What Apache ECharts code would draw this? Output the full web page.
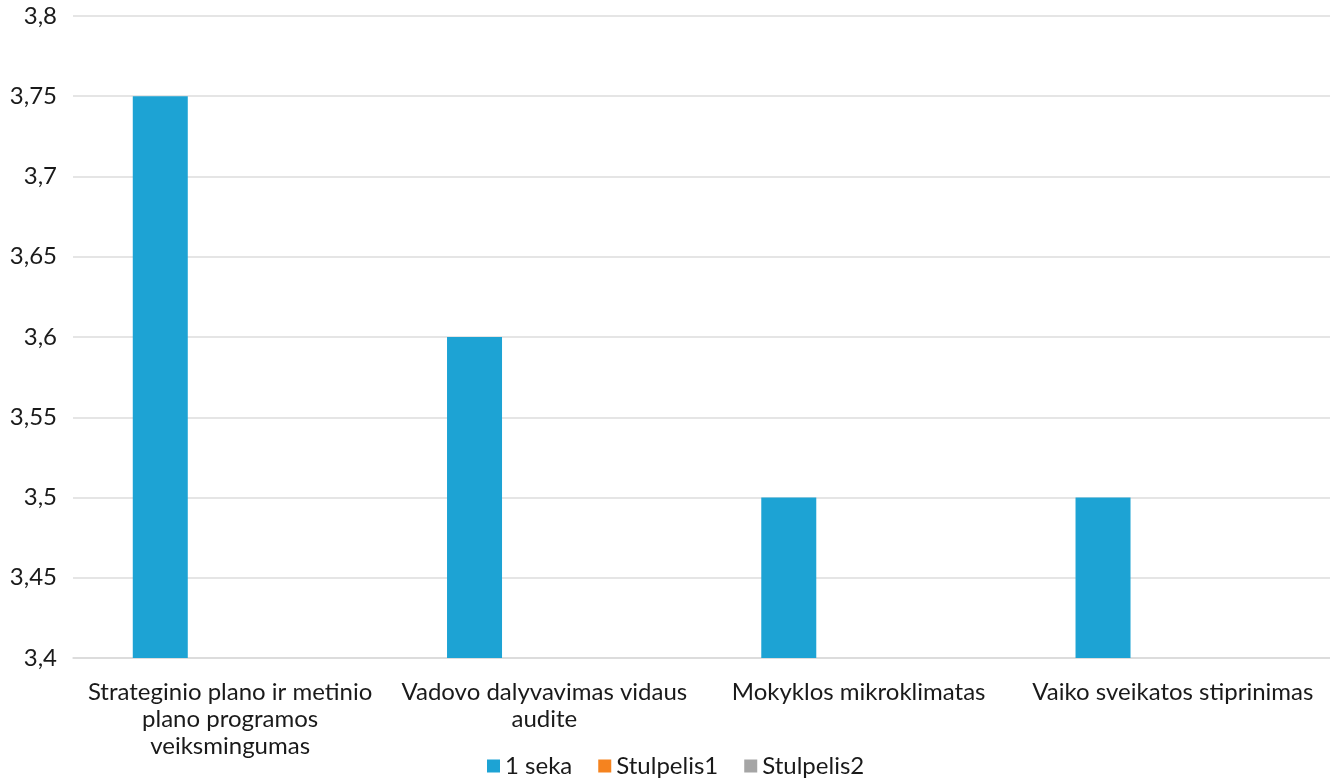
<!DOCTYPE html>
<html>
<head>
<meta charset="utf-8">
<script src="https://cdn.jsdelivr.net/npm/echarts@6/dist/echarts.min.js"></script>
<style>html,body{margin:0;padding:0;background:#fff;}#c{width:1330px;height:783px;}</style>
</head>
<body>
<div id="c"></div>
<script>
var categories = [
  "Strateginio plano ir metinio\nplano programos\nveiksmingumas",
  "Vadovo dalyvavimas vidaus\naudite",
  "Mokyklos mikroklimatas",
  "Vaiko sveikatos stiprinimas"
];
var seriesNames = ["1 seka", "Stulpelis1", "Stulpelis2"];
var seka1 = [3.75, 3.6, 3.5, 3.5];
var stulpelis1 = [null, null, null, null];
var stulpelis2 = [null, null, null, null];
var yMin = 3.4, yMax = 3.8, yStep = 0.05;

var font = "Lato, 'Noto Sans', sans-serif";
var chart = echarts.init(document.getElementById('c'));
chart.setOption({
  animation: false,
  color: ['#1DA3D4', '#F5831F', '#A5A5A5'],
  textStyle: { fontFamily: font },
  grid: { left: 73, right: 0, top: 16, bottom: 125, containLabel: false },
  legend: {
    data: seriesNames,
    left: 482, top: 752, padding: [2, 5, 2, 5],
    itemWidth: 13, itemHeight: 13, itemGap: 26,
    icon: 'rect',
    textStyle: { fontSize: 24, color: '#1a1a1a', fontFamily: font, padding: [0,0,0,0] }
  },
  xAxis: {
    type: 'category',
    data: categories,
    axisLine: { show: true, lineStyle: { color: '#d9d9d9', width: 1.5 } },
    axisTick: { show: false },
    axisLabel: { fontSize: 24, color: '#1a1a1a', fontFamily: font, lineHeight: 27, margin: 21, interval: 0 }
  },
  yAxis: {
    type: 'value',
    min: yMin, max: yMax, interval: yStep,
    axisLine: { show: false },
    axisTick: { show: false },
    splitLine: { lineStyle: { color: '#dcdcdc', width: 1.5 } },
    axisLabel: {
      fontSize: 24, color: '#1a1a1a', fontFamily: font, margin: 16,
      formatter: function (v) { return (+v.toFixed(2)).toString().replace('.', ','); }
    }
  },
  series: [
    { name: seriesNames[0], type: 'bar', data: seka1, barWidth: 55, barGap: '27%' },
    { name: seriesNames[1], type: 'bar', data: stulpelis1, barWidth: 55, barGap: '27%' },
    { name: seriesNames[2], type: 'bar', data: stulpelis2, barWidth: 55, barGap: '27%' }
  ]
});
</script>
</body>
</html>
